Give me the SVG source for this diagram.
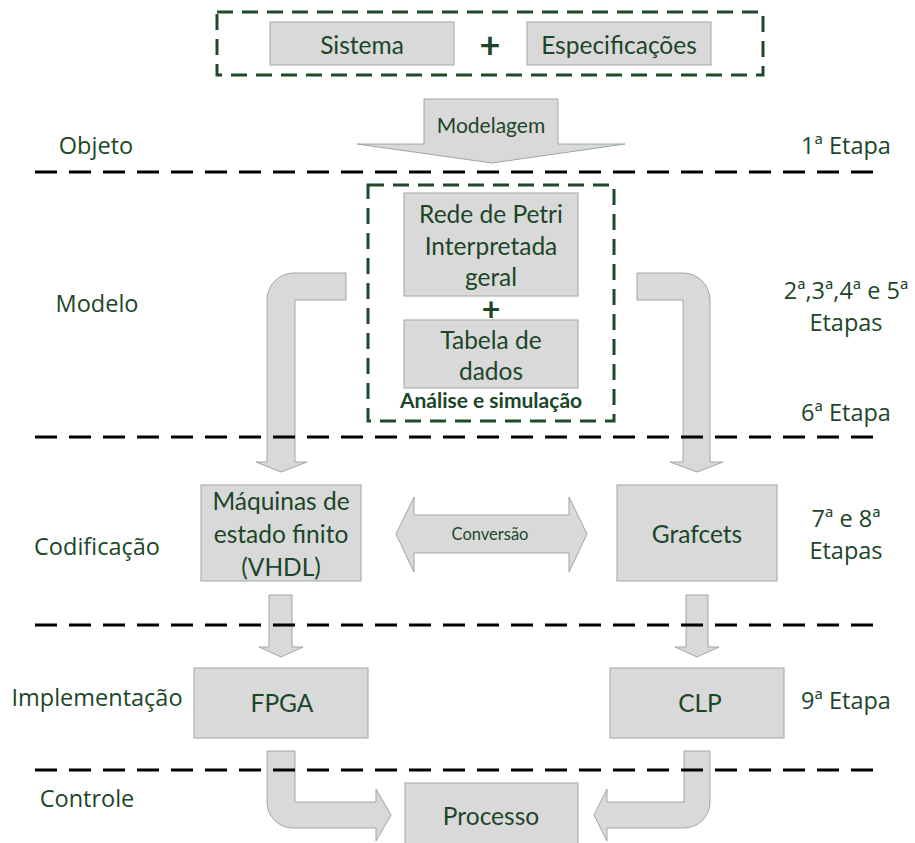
<svg xmlns="http://www.w3.org/2000/svg" width="915" height="843" viewBox="0 0 915 843">
  <style>
    .box { fill: #d9d9d9; stroke: #a7b5a7; stroke-width: 1.2; }
    .arrow { fill: #d9d9d9; stroke: #9aaa9a; stroke-width: 1; }
    .frame { fill: none; stroke: #1e4a2b; stroke-width: 3; stroke-dasharray: 16 9; }
    .sep { fill: none; stroke: #000; stroke-width: 3; stroke-dasharray: 22 12; }
    text { font-family: Lato, "Open Sans", "Liberation Sans", sans-serif; fill: #1c4628; text-anchor: middle; dominant-baseline: central; }
    .t { font-size: 24.5px; }
    .side { font-family: "Open Sans", "Noto Sans", sans-serif; font-size: 23.5px; }
    .small { font-size: 16.5px; }
    .bold { font-size: 21px; font-weight: bold; }
    .plus { font-size: 36px; font-weight: bold; }
  </style>

  <!-- stage labels, left -->
  <g id="labels-left">
    <text class="side" x="96" y="145">Objeto</text>
    <text class="side" x="97" y="303">Modelo</text>
    <text class="side" x="97" y="546">Codificação</text>
    <text class="side" x="97" y="697">Implementação</text>
    <text class="side" x="87" y="798">Controle</text>
  </g>

  <!-- stage labels, right -->
  <g id="labels-right">
    <text class="side" x="846" y="145">1ª Etapa</text>
    <text class="side" x="846" y="290">2ª,3ª,4ª e 5ª</text>
    <text class="side" x="846" y="322">Etapas</text>
    <text class="side" x="846" y="412">6ª Etapa</text>
    <text class="side" x="846" y="518">7ª e 8ª</text>
    <text class="side" x="846" y="550">Etapas</text>
    <text class="side" x="846" y="700">9ª Etapa</text>
  </g>

  <!-- block arrows -->
  <g id="connectors">
    <path class="arrow" d="M424,99 H558 V144 H625 L492,163 L357,144 H424 Z"/>
    <path class="arrow" d="M346,273 H294 A27,27 0 0 0 267,300 V462 H256 L281,472 L307,462 H295 V300 H346 Z"/>
    <path class="arrow" d="M637,273 H683 A27,27 0 0 1 710,300 V462 H723 L697,472 L670,462 H683 V300 H637 Z"/>
    <path class="arrow" d="M396,534 L414,497 V515 H569 V497 L587,534 L569,572 V553 H414 V572 Z"/>
    <path class="arrow" d="M269,595 H292 V647 H303 L281,657 L259,647 H269 Z"/>
    <path class="arrow" d="M686,595 H708 V647 H719 L697,657 L675,647 H686 Z"/>
    <path class="arrow" d="M267,751 H295 V802 H376 V789 L391,815 L376,841 V828 H293 A26,26 0 0 1 267,802 Z"/>
    <path class="arrow" d="M684,751 H710 V802 A26,26 0 0 1 684,828 H607 V841 L594,815 L607,789 V802 H684 Z"/>
    <text class="t" x="491" y="124" style="font-size:21px">Modelagem</text>
    <text class="small" x="490" y="534">Conversão</text>
  </g>

  <!-- object group -->
  <g id="objeto">
    <rect class="frame" x="217" y="12" width="546" height="63"/>
    <g id="sistema">
      <rect class="box" x="270" y="22" width="184" height="43"/>
      <text class="t" x="362" y="44">Sistema</text>
    </g>
    <text class="plus" x="490" y="44">+</text>
    <g id="especificacoes">
      <rect class="box" x="527" y="22" width="184" height="43"/>
      <text class="t" x="619" y="44">Especificações</text>
    </g>
  </g>

  <!-- model group -->
  <g id="modelo">
    <rect class="frame" x="368" y="185" width="246" height="236"/>
    <g id="rede-petri">
      <rect class="box" x="404" y="193" width="174" height="103"/>
      <text class="t" x="491" y="213">Rede de Petri</text>
      <text class="t" x="491" y="245">Interpretada</text>
      <text class="t" x="491" y="276">geral</text>
    </g>
    <text class="plus" x="491" y="308" style="font-size:32px">+</text>
    <g id="tabela">
      <rect class="box" x="404" y="320" width="174" height="68"/>
      <text class="t" x="491" y="339">Tabela de</text>
      <text class="t" x="491" y="370">dados</text>
    </g>
    <text class="bold" x="491" y="399">Análise e simulação</text>
  </g>

  <g id="maquinas">
    <rect class="box" x="201" y="485" width="160" height="96"/>
    <text class="t" x="281" y="500">Máquinas de</text>
    <text class="t" x="281" y="533">estado finito</text>
    <text class="t" x="281" y="566">(VHDL)</text>
  </g>

  <g id="grafcets">
    <rect class="box" x="617" y="485" width="160" height="96"/>
    <text class="t" x="697" y="533">Grafcets</text>
  </g>

  <g id="fpga">
    <rect class="box" x="194" y="668" width="174" height="70"/>
    <text class="t" x="282" y="702">FPGA</text>
  </g>

  <g id="clp">
    <rect class="box" x="610" y="668" width="174" height="70"/>
    <text class="t" x="700" y="702">CLP</text>
  </g>

  <g id="processo">
    <rect class="box" x="405" y="783" width="173" height="70"/>
    <text class="t" x="491" y="815">Processo</text>
  </g>

  <!-- stage separators -->
  <g id="separators">
    <line class="sep" x1="35" y1="172" x2="875" y2="172"/>
    <line class="sep" x1="35" y1="437" x2="875" y2="437"/>
    <line class="sep" x1="35" y1="625" x2="875" y2="625"/>
    <line class="sep" x1="35" y1="770" x2="875" y2="770"/>
  </g>
</svg>
